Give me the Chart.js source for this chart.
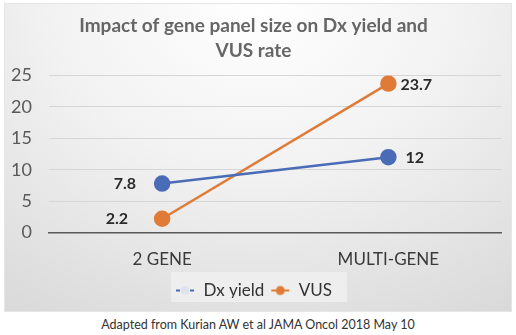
<!DOCTYPE html>
<html>
<head>
<meta charset="utf-8">
<script src="https://cdn.jsdelivr.net/npm/chart.js@4"></script>
<style>
  body { margin: 0; background: #fff; width: 516px; height: 335px; position: relative; font-family: Lato, sans-serif; }
  #box {
    position: absolute; left: 4px; top: 3px; width: 508px; height: 309px;
    background: radial-gradient(ellipse 90% 120% at 50% 0%, #ffffff 0%, #f2f2f2 45%, #d9d9d9 100%);
    border: 1px solid #e6e6e6; box-sizing: border-box;
  }
  #chart { position: absolute; left: 0; top: 0; }
  #caption { position: absolute; top: 317px; left: 0; width: 516px; text-align: center; font-size: 12.5px; color: #333; }
</style>
</head>
<body>
<div id="box"><canvas id="chart" width="506" height="307"></canvas></div>
<div id="caption">Adapted from Kurian AW et al JAMA Oncol 2018 May 10</div>
<script>
const categories = ['2 GENE', 'MULTI-GENE'];
const dxYield = [7.8, 12];
const vusRate = [2.2, 23.7];
const yTicks = [0, 5, 10, 15, 20, 25];

const blue = '#4a6cb7';
const orange = '#e07b37';
const legendShift = 11;

// little legend icons: line with a dot
function legendIcon(color, dashed, dotFill) {
  const c = document.createElement('canvas');
  c.width = 20; c.height = 12;
  const g = c.getContext('2d');
  g.strokeStyle = color; g.lineWidth = 2;
  if (dashed) g.setLineDash([4, 3]);
  g.beginPath(); g.moveTo(1, 6); g.lineTo(19, 6); g.stroke();
  g.setLineDash([]);
  g.fillStyle = dotFill;
  g.beginPath(); g.arc(10, 6, 4.5, 0, Math.PI * 2); g.fill();
  return c;
}

// draw the value labels beside each point
const valueLabels = {
  id: 'valueLabels',
  afterDatasetsDraw(chart) {
    const ctx = chart.ctx;
    ctx.save();
    ctx.font = 'bold 16px Lato';
    ctx.fillStyle = '#2b2b2b';
    ctx.textBaseline = 'middle';
    chart.data.datasets.forEach((ds, i) => {
      chart.getDatasetMeta(i).data.forEach((pt, j) => {
        if (j === 0) { ctx.textAlign = 'right'; ctx.fillText(ds.data[j], pt.x - ds.labelGap[0], pt.y); }
        else { ctx.textAlign = 'left'; ctx.fillText(ds.data[j], pt.x + ds.labelGap[1], pt.y + 1); }
      });
    });
    ctx.restore();
  }
};

// legend takes less room (so the plot gets taller) but is drawn where it was
const legendTweak = {
  id: 'legendTweak',
  beforeInit(chart) {
    const lg = chart.legend;
    const fit = lg.fit;
    lg.fit = function () { fit.call(this); this.height -= legendShift; };
    const draw = lg.draw;
    lg.draw = function () {
      const ctx = this.ctx;
      ctx.save();
      ctx.translate(0, -legendShift);
      ctx.fillStyle = 'rgba(240,240,240,0.85)';
      ctx.fillRect(166, this.top + this.height / 2 - 15, 176, 30);
      draw.call(this);
      ctx.restore();
    };
  }
};

new Chart(document.getElementById('chart'), {
  type: 'line',
  data: {
    labels: categories,
    datasets: [
      {
        label: 'Dx yield',
        data: dxYield,
        borderColor: blue,
        backgroundColor: blue,
        borderWidth: 2.5,
        pointRadius: 7,
        pointHoverRadius: 7,
        pointStyle: 'circle',
        labelGap: [26, 17],
        legendIcon: legendIcon(blue, true, '#dde3ee')
      },
      {
        label: 'VUS',
        data: vusRate,
        borderColor: orange,
        backgroundColor: orange,
        borderWidth: 2.5,
        pointRadius: 7,
        pointHoverRadius: 7,
        pointStyle: 'circle',
        labelGap: [34, 12],
        legendIcon: legendIcon(orange, false, orange)
      }
    ]
  },
  options: {
    responsive: false,
    animation: false,
    layout: { padding: { left: 0, right: 9, top: 6, bottom: 2 } },
    plugins: {
      title: {
        display: true,
        text: ['Impact of gene panel size on Dx yield and', 'VUS rate'],
        color: '#666666',
        font: { family: 'Lato', size: 19, weight: 'bold', lineHeight: 1.3 },
        padding: { top: 4, bottom: 12 }
      },
      legend: {
        position: 'bottom',
        labels: {
          usePointStyle: true,
          boxHeight: 12,
          pointStyleWidth: 20,
          color: '#333',
          font: { family: 'Lato', size: 17 },
          padding: 6,
          generateLabels(chart) {
            return chart.data.datasets.map((ds, i) => ({
              text: ds.label,
              pointStyle: ds.legendIcon,
              fontColor: '#333',
              datasetIndex: i,
              lineWidth: 0,
              strokeStyle: 'transparent',
              fillStyle: 'transparent'
            }));
          }
        }
      },
      tooltip: { enabled: false }
    },
    scales: {
      x: {
        offset: true,
        grid: { display: false, drawTicks: false },
        border: { color: '#595959', width: 1.5 },
        ticks: { color: '#3a3a3a', font: { family: 'Lato', size: 17 }, padding: 17 }
      },
      y: {
        min: 0,
        max: 25,
        afterBuildTicks(axis) { axis.ticks = yTicks.map(v => ({ value: v })); },
        afterFit(axis) { axis.width = 44; },
        grid: { color: '#d6d6d6', drawTicks: false },
        border: { display: false },
        ticks: { color: '#595959', font: { family: 'Lato', size: 18 }, padding: 17 }
      }
    }
  },
  plugins: [valueLabels, legendTweak]
});
</script>
</body>
</html>
